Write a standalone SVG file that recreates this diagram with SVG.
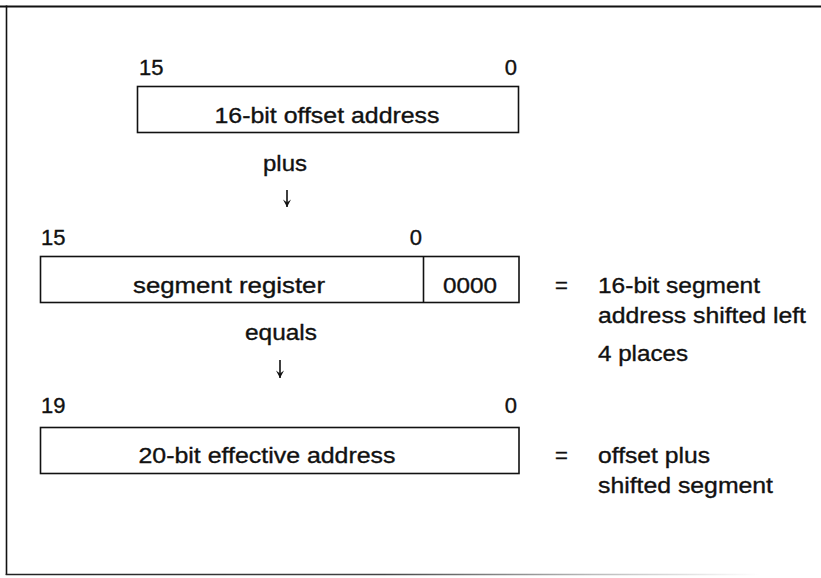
<svg xmlns="http://www.w3.org/2000/svg" width="821" height="578" viewBox="0 0 821 578">
<style>
  text { font-family: "Liberation Sans", Arial, Helvetica, sans-serif; font-size: 22px; fill: #111; stroke: #111; stroke-width: 0.35; }
  .box { fill: #fff; stroke: #111; stroke-width: 1.6; }
  .frame { stroke: #111; fill: none; }
  .conn { stroke: #111; stroke-width: 1.6; fill: none; }
  .mid { text-anchor: middle; }
  .end { text-anchor: end; }
</style>
<defs>
  <marker id="ah" viewBox="0 0 10 10" refX="10" refY="5" markerWidth="10" markerHeight="10" markerUnits="userSpaceOnUse" orient="auto">
    <path d="M2.5,1 L10,5 L2.5,9 L5.5,5 Z" fill="#111"/>
  </marker>
  <linearGradient id="fade" x1="6" y1="0" x2="760" y2="0" gradientUnits="userSpaceOnUse">
    <stop offset="0" stop-color="#222"/>
    <stop offset="0.5" stop-color="#444"/>
    <stop offset="0.78" stop-color="#bbb"/>
    <stop offset="1" stop-color="#fff"/>
  </linearGradient>
</defs>
<rect width="821" height="578" fill="#fff"/>

<g id="frame">
  <line class="frame" x1="0" y1="6.5" x2="821" y2="6.5" stroke-width="2.2"/>
  <line class="frame" x1="6.5" y1="5.5" x2="6.5" y2="575" stroke-width="1.6"/>
  <line x1="5.7" y1="574.5" x2="760" y2="574.5" stroke="url(#fade)" stroke-width="1.6"/>
</g>

<g id="offset-node">
  <text x="139" y="75">15</text>
  <text class="end" x="517" y="75">0</text>
  <rect class="box" x="137.5" y="86.5" width="381" height="46"/>
  <text class="mid" x="327" y="123" textLength="225" lengthAdjust="spacingAndGlyphs">16-bit offset address</text>
</g>

<g id="segment-node">
  <text x="41" y="245">15</text>
  <text class="end" x="422" y="245">0</text>
  <rect class="box" x="40.5" y="256.5" width="478.5" height="46"/>
  <line class="conn" x1="423.5" y1="256.5" x2="423.5" y2="302.5"/>
  <text class="mid" x="229" y="293" textLength="192" lengthAdjust="spacingAndGlyphs">segment register</text>
  <text class="mid" x="470" y="293" textLength="54" lengthAdjust="spacingAndGlyphs">0000</text>
  <text x="555" y="293">=</text>
  <text x="598" y="293" textLength="162" lengthAdjust="spacingAndGlyphs">16-bit segment</text>
  <text x="598" y="323" textLength="208" lengthAdjust="spacingAndGlyphs">address shifted left</text>
  <text x="598" y="361" textLength="90" lengthAdjust="spacingAndGlyphs">4 places</text>
</g>

<g id="effective-node">
  <text x="41" y="413">19</text>
  <text class="end" x="517" y="413">0</text>
  <rect class="box" x="40.5" y="427.5" width="478.5" height="46"/>
  <text class="mid" x="267" y="463" textLength="257" lengthAdjust="spacingAndGlyphs">20-bit effective address</text>
  <text x="555" y="463">=</text>
  <text x="598" y="463" textLength="112" lengthAdjust="spacingAndGlyphs">offset plus</text>
  <text x="598" y="493" textLength="175" lengthAdjust="spacingAndGlyphs">shifted segment</text>
</g>

<g id="connectors">
  <text class="mid" x="285" y="171" textLength="44" lengthAdjust="spacingAndGlyphs">plus</text>
  <line class="conn" x1="287" y1="190" x2="287" y2="207" marker-end="url(#ah)"/>
  <text class="mid" x="281" y="340" textLength="72" lengthAdjust="spacingAndGlyphs">equals</text>
  <line class="conn" x1="280" y1="360" x2="280" y2="378" marker-end="url(#ah)"/>
</g>
</svg>
